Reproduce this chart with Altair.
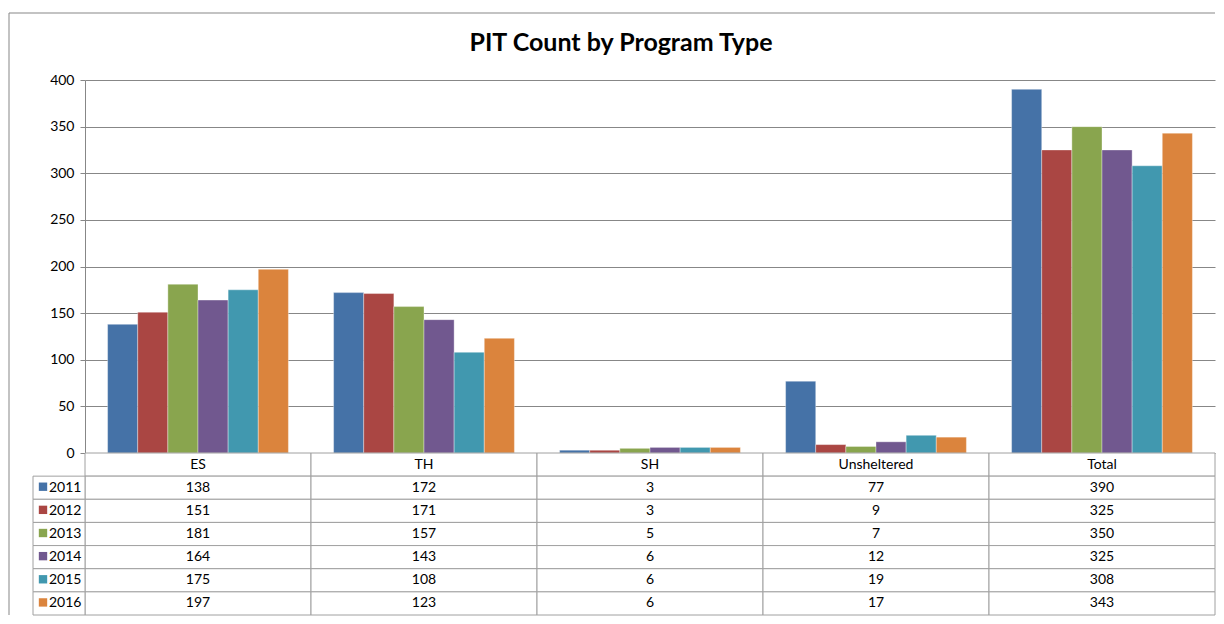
import altair as alt
import pandas as pd

categories = ["ES", "TH", "SH", "Unsheltered", "Total"]
years = ["2011", "2012", "2013", "2014", "2015", "2016"]
v2011 = [138, 172, 3, 77, 390]
v2012 = [151, 171, 3, 9, 325]
v2013 = [181, 157, 5, 7, 350]
v2014 = [164, 143, 6, 12, 325]
v2015 = [175, 108, 6, 19, 308]
v2016 = [197, 123, 6, 17, 343]
series = [v2011, v2012, v2013, v2014, v2015, v2016]
colors = ["#4572A7", "#AA4643", "#89A54E", "#71588F", "#4198AF", "#DB843D"]
y_ticks = [0, 50, 100, 150, 200, 250, 300, 350, 400]

FONT = "Lato"
GRID = "#878787"
CELL = "#a0a0a0"
W = 1130
H = 373
TH = 162
FS = 14

rows = []
for yr, vals in zip(years, series):
    for c, v in zip(categories, vals):
        rows.append({"category": c, "year": yr, "value": v})
df = pd.DataFrame(rows)

xscale = alt.Scale(domain=categories, paddingInner=0, paddingOuter=0)
cscale = alt.Scale(domain=years, range=colors)

bars = alt.Chart(df).mark_bar(stroke="white", strokeWidth=0.6, strokeOpacity=0.6).encode(
    x=alt.X("category:N", sort=categories, scale=xscale, axis=None),
    xOffset=alt.XOffset("year:N", sort=years,
                        scale=alt.Scale(domain=years, paddingInner=0, paddingOuter=0.75)),
    y=alt.Y("value:Q", scale=alt.Scale(domain=[0, 400], nice=False),
            axis=alt.Axis(values=y_ticks, grid=True, gridColor=GRID, domainColor=GRID,
                          tickColor=GRID, tickSize=5, labelPadding=6, title=None,
                          labelFont=FONT, labelFontSize=FS, labelColor="black")),
    color=alt.Color("year:N", scale=cscale, legend=None),
)

one = pd.DataFrame({"k": [0]})
top_border = alt.Chart(one).mark_rule(color=GRID, strokeWidth=1).encode(
    x=alt.value(-76), x2=alt.value(W), y=alt.value(-67))
left_border = alt.Chart(one).mark_rule(color=GRID, strokeWidth=1).encode(
    x=alt.value(-76), y=alt.value(-67), y2=alt.value(H))

top = alt.layer(bars, top_border, left_border).properties(
    width=W, height=H,
    title=alt.TitleParams("PIT Count by Program Type", font=FONT, fontSize=25,
                          fontWeight="bold", color="black", anchor="middle",
                          frame="group", offset=0, baseline="alphabetic",
                          dx=-29, dy=63.5),
)

# table
row_domain = ["hdr"] + years
cells = []
for c_i, c in enumerate(categories):
    cells.append({"category": c, "row": "hdr", "label": c})
    for yr, vals in zip(years, series):
        cells.append({"category": c, "row": yr, "label": str(vals[c_i])})
cells = pd.DataFrame(cells)
leg = pd.DataFrame({"row": years, "year": years})

yscale = alt.Scale(domain=row_domain, paddingInner=0, paddingOuter=0)
X = alt.X("category:N", sort=categories, scale=xscale, axis=None)
Y = alt.Y("row:N", sort=row_domain, scale=yscale, axis=None)

cell_rect = alt.Chart(cells).mark_rect(fill="white", stroke=CELL, strokeWidth=1).encode(x=X, y=Y)
cell_text = alt.Chart(cells).mark_text(font=FONT, fontSize=FS, color="black").encode(
    x=X, y=Y, text="label:N")
leg_rect = alt.Chart(leg).mark_rect(fill="white", stroke=CELL, strokeWidth=1).encode(
    x=alt.value(-52), x2=alt.value(0), y=Y)
leg_sq = alt.Chart(leg).mark_square(size=70, opacity=1, yOffset=-1).encode(
    x=alt.value(-42), y=Y, color=alt.Color("year:N", scale=cscale, legend=None))
leg_text = alt.Chart(leg).mark_text(font=FONT, fontSize=FS, color="black", align="left").encode(
    x=alt.value(-36), y=Y, text="year:N")
left_border2 = alt.Chart(one).mark_rule(color=GRID, strokeWidth=1).encode(
    x=alt.value(-76), y=alt.value(0), y2=alt.value(TH))

table = alt.layer(cell_rect, cell_text, leg_rect, leg_sq, leg_text, left_border2).properties(
    width=W, height=TH)

chart = alt.vconcat(top, table, spacing=0, bounds="flush").properties(
    padding={"left": 0, "top": 4, "right": 0, "bottom": 0}
).configure_view(stroke=None)

chart.save("out.html", embed_options={"renderer": "svg", "actions": False})
